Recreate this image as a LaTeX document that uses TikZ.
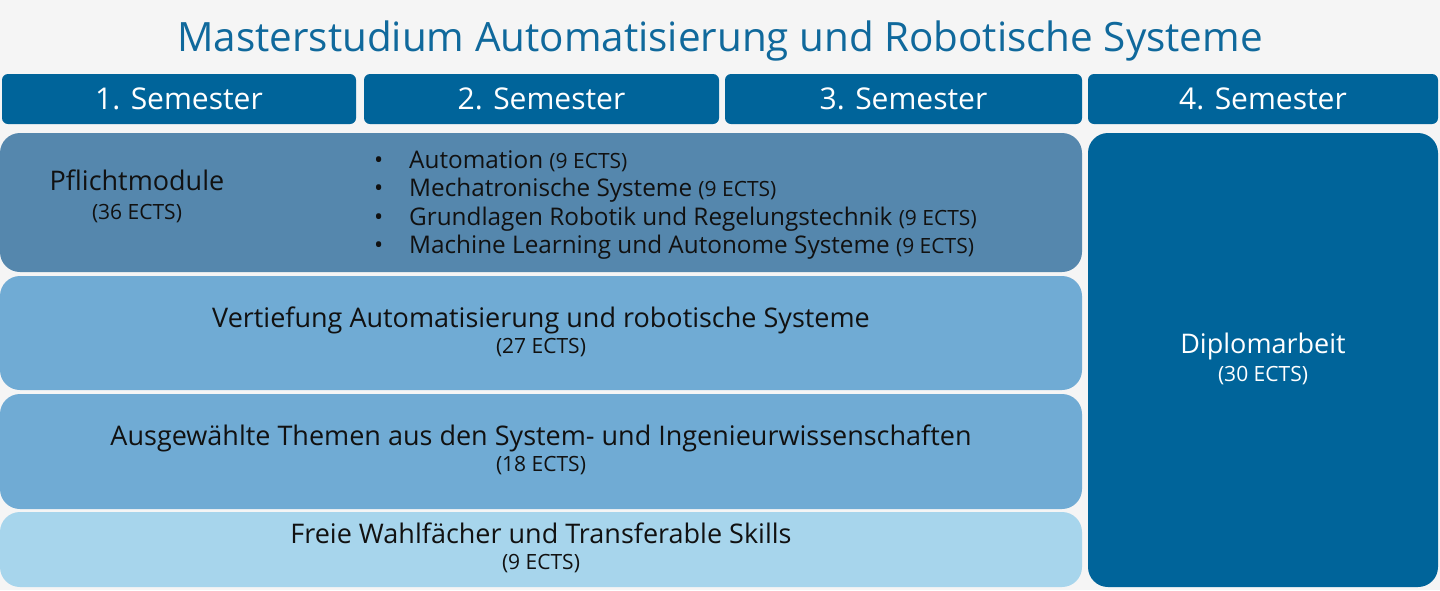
\documentclass[tikz,border=0pt]{standalone}
\usepackage{fontspec}
\setmainfont{Open Sans}
\definecolor{titleblue}{HTML}{10699C}
\definecolor{semblue}{HTML}{00649A}
\definecolor{pflichtblue}{HTML}{5587AD}
\definecolor{modblue}{HTML}{70ABD4}
\definecolor{freiblue}{HTML}{A7D5EC}
\definecolor{bggray}{HTML}{F5F5F5}
\definecolor{textdark}{HTML}{111111}
\newcommand{\ectsfont}{\fontsize{21}{24}\selectfont}
\newcommand{\ects}[1]{\ectsfont(#1 ECTS)\rule[-6pt]{0pt}{6pt}}
\begin{document}
\begin{tikzpicture}[x=1pt,y=-1pt,
    sembox/.style={fill=semblue,rounded corners=6pt,minimum height=50pt,
      inner sep=0pt,text=white,font=\fontsize{30}{34}\selectfont},
    modbox/.style={rounded corners=20pt,minimum width=1082pt,inner sep=0pt,
      align=center,text=textdark,font=\fontsize{27}{30}\selectfont},
    listitem/.style={anchor=base west,inner sep=0pt,text=textdark,
      font=\fontsize{24.3}{28}\selectfont}]
  \useasboundingbox[fill=bggray] (0,0) rectangle (1440,590);
  \node[text=titleblue,font=\fontsize{40.4}{48}\selectfont] (title) at (720,41)
    {Masterstudium Automatisierung und Robotische Systeme};
  % semester header
  \node[sembox,minimum width=354pt] (sem1) at (179,99) {1. Semester};
  \node[sembox,minimum width=355pt] (sem2) at (541.5,99) {2. Semester};
  \node[sembox,minimum width=357pt] (sem3) at (903.5,99) {3. Semester};
  \node[sembox,minimum width=350pt] (sem4) at (1263,99) {4. Semester};
  % module blocks
  \node[modbox,fill=pflichtblue,minimum height=139pt] (pflicht) at (541,202.5) {};
  \node[modbox,fill=modblue,minimum height=114pt] (vert) at (541,333)
    {Vertiefung Automatisierung und robotische Systeme\\[-4pt] \ects{27}};
  \node[modbox,fill=modblue,minimum height=115pt] (ausgew) at (541,451.5)
    {Ausgewählte Themen aus den System- und Ingenieurwissenschaften\\[-4pt] \ects{18}};
  \node[modbox,fill=freiblue,minimum height=75pt] (frei) at (541,549.5)
    {Freie Wahlfächer und Transferable Skills\\[-4pt] \ects{9}};
  \node[modbox,fill=semblue,minimum width=350pt,minimum height=454pt,text=white]
    (diplom) at (1263,360) {Diplomarbeit\\[-2pt] \ects{30}};
  % Pflichtmodule text
  \node[align=center,text=textdark,font=\fontsize{27}{30}\selectfont] (pflichttext)
    at (137,196) {Pflichtmodule\\[-1pt] \ectsfont(36 ECTS)};
  \foreach \i/\t in {0/Automation, 1/Mechatronische Systeme,
      2/Grundlagen Robotik und Regelungstechnik,
      3/Machine Learning und Autonome Systeme} {
    \node[listitem] (dot\i) at (374,{168.5+28.4*\i}) {\textbullet};
    \node[listitem] (item\i) at (409,{168.5+28.4*\i}) {\t\ \ectsfont(9 ECTS)};
  }
\end{tikzpicture}
\end{document}
